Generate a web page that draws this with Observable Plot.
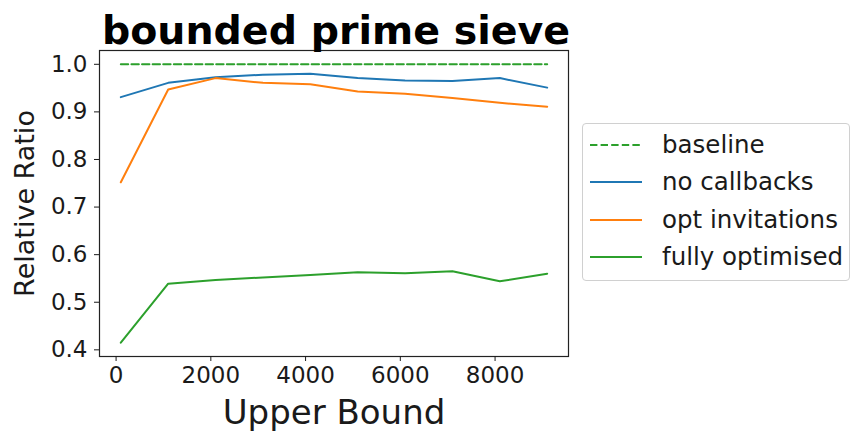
<!DOCTYPE html>
<html>
<head>
<meta charset="utf-8">
<script src="https://cdn.jsdelivr.net/npm/d3@7"></script>
<script src="https://cdn.jsdelivr.net/npm/@observablehq/plot@0.6"></script>
<style>
  html, body { margin: 0; padding: 0; background: #fff; }
  #wrap { position: relative; width: 854px; height: 431px; font-family: "DejaVu Sans", sans-serif; }
  #legend {
    position: absolute; left: 582px; top: 123px; width: 268px; height: 158px;
    border: 1px solid #d0d0d0; border-radius: 4px; box-sizing: border-box;
    padding-top: 2px; background: #fff;
  }
  .row { display: flex; align-items: center; height: 37.5px; }
  .row svg { margin-left: 7px; margin-right: 20px; }
  .row span { font-size: 24.5px; color: #1a1a1a; line-height: 1; }
</style>
</head>
<body>
<div id="wrap"><div id="chart"></div><div id="legend"></div></div>
<script>
const title = "bounded prime sieve";
const xLabel = "Upper Bound";
const yLabel = "Relative Ratio";
const upperBound = [100, 1100, 2100, 3100, 4100, 5100, 6100, 7100, 8100, 9100];
const baseline = [1, 1, 1, 1, 1, 1, 1, 1, 1, 1];
const noCallbacks = [0.931, 0.961, 0.973, 0.978, 0.980, 0.971, 0.966, 0.965, 0.971, 0.951];
const optInvitations = [0.752, 0.947, 0.971, 0.961, 0.958, 0.943, 0.938, 0.929, 0.919, 0.911];
const fullyOptimised = [0.415, 0.539, 0.547, 0.552, 0.557, 0.563, 0.561, 0.565, 0.544, 0.560];
const xTicks = [0, 2000, 4000, 6000, 8000];
const yTicks = [0.4, 0.5, 0.6, 0.7, 0.8, 0.9, 1.0];

const seriesNames = ["baseline", "no callbacks", "opt invitations", "fully optimised"];
const seriesValues = [baseline, noCallbacks, optInvitations, fullyOptimised];
const seriesColors = ["#2ca02c", "#1f77b4", "#ff7f0e", "#2ca02c"];
const seriesDash = ["7.4,3.2", null, null, null];

const rows = [];
seriesNames.forEach((name, i) => {
  upperBound.forEach((x, j) => rows.push({series: name, x, y: seriesValues[i][j]}));
});

const lineMarks = seriesNames.map((name, i) =>
  Plot.line(rows.filter(d => d.series === name), {
    x: "x", y: "y", stroke: seriesColors[i], strokeWidth: 2,
    strokeDasharray: seriesDash[i] || undefined
  })
);

const chart = Plot.plot({
  width: 854,
  height: 431,
  marginLeft: 99,
  marginRight: 286,
  marginTop: 50,
  marginBottom: 75,
  style: {fontFamily: "DejaVu Sans, sans-serif", background: "#fff", color: "#1a1a1a"},
  x: {domain: [-350, 9550], ticks: xTicks},
  y: {domain: [0.386, 1.029], ticks: yTicks},
  marks: [
    ...lineMarks,
    Plot.frame({stroke: "#222", strokeWidth: 1.2}),
    Plot.axisX({ticks: xTicks, tickSize: 5, tickPadding: 5, fontSize: 23, label: null, tickFormat: d3.format("d")}),
    Plot.axisY({ticks: yTicks, tickSize: 5, tickPadding: 7, fontSize: 23, label: null, tickFormat: d3.format(".1f")}),
    Plot.text([xLabel], {frameAnchor: "bottom", lineAnchor: "middle", textAnchor: "middle", dy: 57, fontSize: 34, fill: "#1a1a1a"}),
    Plot.text([yLabel], {frameAnchor: "left", lineAnchor: "middle", textAnchor: "middle", dx: -74.6, rotate: -90, fontSize: 27, fill: "#1a1a1a"}),
    Plot.text([title], {frameAnchor: "top", lineAnchor: "middle", textAnchor: "middle", dx: 2, dy: -19.6, fontSize: 39.5, fontWeight: "bold", fill: "#000"})
  ]
});
document.getElementById("chart").appendChild(chart);

const legend = document.getElementById("legend");
seriesNames.forEach((name, i) => {
  const row = document.createElement("div");
  row.className = "row";
  const dash = seriesDash[i] ? `stroke-dasharray="${seriesDash[i]}"` : "";
  row.innerHTML = `<svg width="52" height="10"><line x1="0" y1="5" x2="52" y2="5" stroke="${seriesColors[i]}" stroke-width="2" ${dash}/></svg><span>${name}</span>`;
  legend.appendChild(row);
});
</script>
</body>
</html>
